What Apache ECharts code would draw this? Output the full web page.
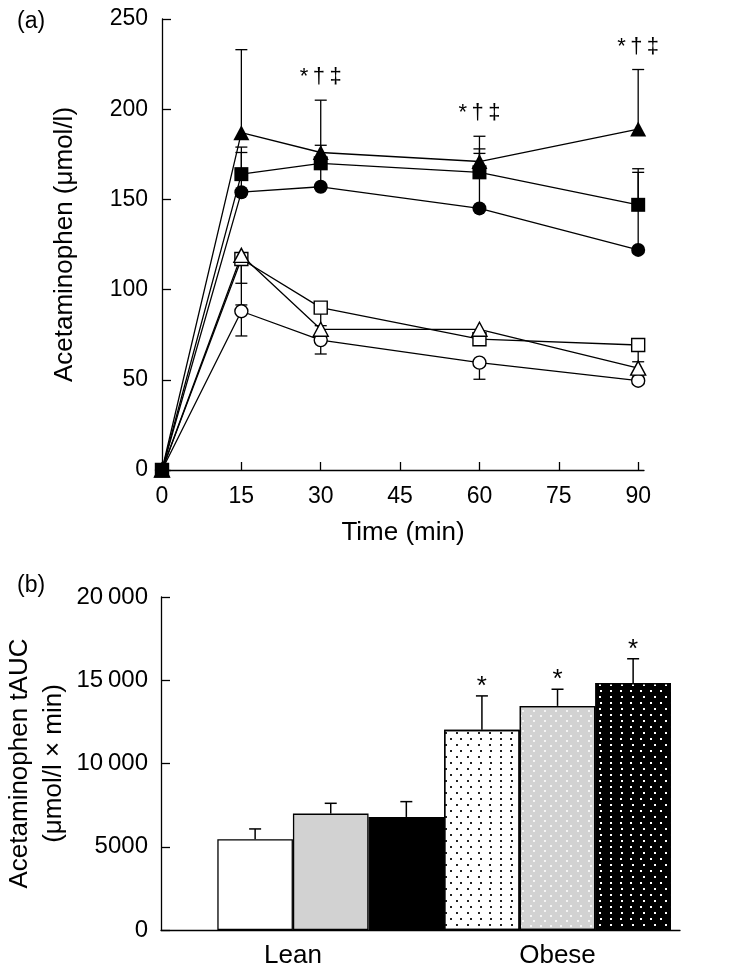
<!DOCTYPE html>
<html><head><meta charset="utf-8">
<script src="https://cdn.jsdelivr.net/npm/echarts@6/dist/echarts.min.js"></script>
<style>html,body{margin:0;padding:0;background:#fff}#c{width:737px;height:974px}</style>
</head><body><div id="c"></div>
<script>
// ---------- Panel (a) data ----------
const times = [0, 15, 30, 60, 90];
const timeTicks = [0, 15, 30, 45, 60, 75, 90];
const filledTriangle = [0, 187, 176, 171, 189];
const filledTriangleErr = [null, 233, 205, 185, 222];
const filledSquare = [0, 164, 170, 165, 147];
const filledSquareErr = [null, 179, 180, 178, 167];
const filledCircle = [0, 154, 157, 145, 122];
const filledCircleErr = [null, 176, 168, 175.5, 165];
const openTriangle = [0, 119, 78, 78, 56.5];
const openTriangleErr = [null, 103.5, 74, 72, 52];
const openSquare = [0, 117, 90, 72.5, 69.3];
const openSquareErr = [null, 91.5, 80, 70, 60];
const openCircle = [0, 88, 72, 59.5, 49.5];
const openCircleErr = [null, 74.3, 64.3, 50.3, 47.7];
const sigTimes = [30, 60, 90];
const sigText = '*\u2009\u2020\u2009\u2021';

// ---------- Panel (b) data ----------
const groupLabels = ['Lean', 'Obese'];
const barValues = [5450, 6990, 6790, 12020, 13460, 14830];
const barErr = [6070, 7610, 7710, 14060, 14460, 16290];
const barStars = ['', '', '', '*', '*', '*'];

const FONT = '"Liberation Sans", Arial, Helvetica, sans-serif';
const tick = {color: '#000', fontFamily: FONT, fontSize: 23};
const tickB = {color: '#000', fontFamily: FONT, fontSize: 24};
const big = {color: '#000', fontFamily: FONT, fontSize: 26};

function lineSeries(vals, symbol, filled, size) {
  return {
    type: 'line', xAxisIndex: 0, yAxisIndex: 0,
    data: times.map((t, i) => [t, vals[i]]),
    symbol: symbol, symbolSize: size, showAllSymbol: true, clip: false,
    lineStyle: {color: '#000', width: 1.3},
    itemStyle: {color: filled ? '#000' : '#fff', borderColor: '#000', borderWidth: filled ? 0 : 1.4, opacity: 1},
    emphasis: {disabled: true}, z: 3, animation: false
  };
}

function errSeries(xs, vals, errs, xi, yi, cap, lw) {
  const data = [];
  xs.forEach((x, i) => { if (errs[i] !== null && errs[i] !== undefined) data.push([x, vals[i], errs[i]]); });
  return {
    type: 'custom', xAxisIndex: xi, yAxisIndex: yi, z: 2, clip: false, animation: false,
    data: data,
    renderItem: function (params, api) {
      const p0 = api.coord([api.value(0), api.value(1)]);
      const p1 = api.coord([api.value(0), api.value(2)]);
      return {type: 'group', children: [
        {type: 'line', shape: {x1: p0[0], y1: p0[1], x2: p1[0], y2: p1[1]}, style: {stroke: '#000', lineWidth: lw}},
        {type: 'line', shape: {x1: p1[0] - cap / 2, y1: p1[1], x2: p1[0] + cap / 2, y2: p1[1]}, style: {stroke: '#000', lineWidth: lw}}
      ]};
    }
  };
}

function textSeries(xs, ys, labels, xi, yi, offset, size) {
  return {
    type: 'custom', xAxisIndex: xi, yAxisIndex: yi, z: 5, clip: false, animation: false,
    data: xs.map((x, i) => [x, ys[i], i]),
    renderItem: function (params, api) {
      const p = api.coord([api.value(0), api.value(1)]);
      return {type: 'text', x: p[0], y: p[1] - offset,
        style: {text: labels[api.value(2)], font: size + 'px ' + FONT, fill: '#000', align: 'center', verticalAlign: 'bottom'}};
    }
  };
}

// significance annotations sit above the filled-triangle error bars
const sigY = sigTimes.map(t => filledTriangleErr[times.indexOf(t)]);

const barStyles = [
  {color: '#fff'},
  {color: '#d2d2d2'},
  {color: '#000'},
  {color: '#fff', decal: {symbol: 'rect', symbolSize: 1, color: '#222', dashArrayX: [[1.2, 7.8], [0, 4.5, 1.2, 3.3]], dashArrayY: [1.2, 3.1]}},
  {color: '#d2d2d2', decal: {symbol: 'rect', symbolSize: 1, color: '#f4f4f4', dashArrayX: [[1.3, 7.7], [0, 4.5, 1.3, 3.2]], dashArrayY: [1.3, 3.0]}},
  {color: '#000', decal: {symbol: 'rect', symbolSize: 1, color: '#fff', dashArrayX: [[1.2, 7.8], [0, 4.5, 1.2, 3.3]], dashArrayY: [1.2, 3.1]}}
];
const barIdx = barValues.map((v, i) => i);

const axisLineStyle = {show: true, onZero: false, lineStyle: {color: '#000', width: 1.3}};

const option = {
  animation: false,
  backgroundColor: '#fff',
  textStyle: {fontFamily: FONT, color: '#000'},
  graphic: [
    {type: 'text', left: 17, top: 10, style: {text: '(a)', font: '23px ' + FONT, fill: '#000'}},
    {type: 'text', left: 17, top: 574, style: {text: '(b)', font: '23px ' + FONT, fill: '#000'}}
  ],
  grid: [
    {left: 162, top: 19, width: 482, height: 451, outerBoundsMode: 'none', containLabel: false},
    {left: 161, top: 597, width: 519, height: 333, outerBoundsMode: 'none', containLabel: false}
  ],
  xAxis: [
    {
      gridIndex: 0, type: 'value', min: 0, max: 91.1,
      axisLine: axisLineStyle,
      axisTick: {show: true, inside: true, length: 8, customValues: timeTicks, lineStyle: {color: '#000', width: 1.3}},
      axisLabel: Object.assign({margin: 15, customValues: timeTicks}, tick),
      splitLine: {show: false},
      name: 'Time (min)', nameLocation: 'middle', nameGap: 50, nameMoveOverlap: false,
      nameTextStyle: big
    },
    {
      gridIndex: 1, type: 'value', min: -1.245, max: 5.62,
      axisLine: axisLineStyle,
      axisTick: {show: false},
      axisLabel: Object.assign({margin: 13, customValues: [0.5, 4],
        formatter: v => (v < 2 ? groupLabels[0] : groupLabels[1])}, big),
      splitLine: {show: false}
    }
  ],
  yAxis: [
    {
      gridIndex: 0, type: 'value', min: 0, max: 250, interval: 50,
      axisLine: axisLineStyle,
      axisTick: {show: true, inside: true, length: 9, lineStyle: {color: '#000', width: 1.3}},
      axisLabel: Object.assign({margin: 14}, tick),
      splitLine: {show: false},
      name: 'Acetaminophen (\u03bcmol/l)', nameLocation: 'middle', nameGap: 84, nameMoveOverlap: false,
      nameTextStyle: big
    },
    {
      gridIndex: 1, type: 'value', min: 0, max: 20000, interval: 5000,
      axisLine: axisLineStyle,
      axisTick: {show: true, inside: true, length: 9, lineStyle: {color: '#000', width: 1.3}},
      axisLabel: Object.assign({margin: 13, formatter: v => (v >= 10000 ? String(v).slice(0, -3) + '\u2009' + String(v).slice(-3) : String(v))}, tickB),
      splitLine: {show: false},
      name: 'Acetaminophen tAUC\n(\u03bcmol/l \u00d7 min)', nameLocation: 'middle', nameGap: 90, nameMoveOverlap: false,
      nameTextStyle: Object.assign({lineHeight: 34}, big)
    }
  ],
  series: [
    errSeries(times, openCircle, openCircleErr, 0, 0, 12, 1.3),
    errSeries(times, openSquare, openSquareErr, 0, 0, 12, 1.3),
    errSeries(times, openTriangle, openTriangleErr, 0, 0, 12, 1.3),
    errSeries(times, filledCircle, filledCircleErr, 0, 0, 12, 1.3),
    errSeries(times, filledSquare, filledSquareErr, 0, 0, 12, 1.3),
    errSeries(times, filledTriangle, filledTriangleErr, 0, 0, 12, 1.3),
    lineSeries(openCircle, 'circle', false, 13),
    lineSeries(openSquare, 'rect', false, 13),
    lineSeries(openTriangle, 'triangle', false, [15, 14]),
    lineSeries(filledCircle, 'circle', true, 14),
    lineSeries(filledTriangle, 'triangle', true, [16, 15]),
    lineSeries(filledSquare, 'rect', true, 14),
    textSeries(sigTimes, sigY, sigTimes.map(() => sigText), 0, 0, 12, 22),
    {
      type: 'bar', xAxisIndex: 1, yAxisIndex: 1, barWidth: 75.6, z: 2,
      data: barValues.map((v, i) => ({value: [i, v], itemStyle: Object.assign({borderColor: '#000', borderWidth: 1.3}, barStyles[i])})),
      emphasis: {disabled: true}
    },
    errSeries(barIdx, barValues, barErr, 1, 1, 12, 1.5),
    textSeries(barIdx, barErr, barStars, 1, 1, -4, 26)
  ]
};

const chart = echarts.init(document.getElementById('c'), null, {renderer: 'canvas'});
chart.setOption(option);
</script>
</body></html>
